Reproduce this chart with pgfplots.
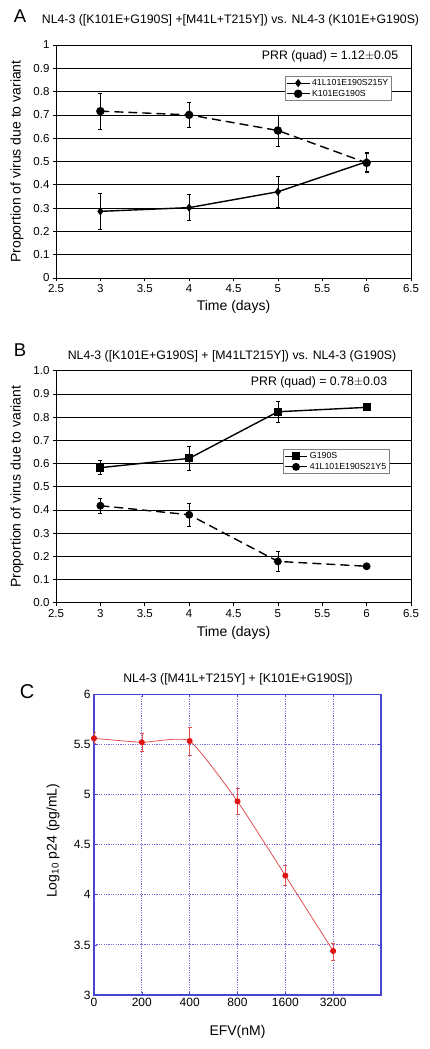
\documentclass[border=0pt]{standalone}
\usepackage{pgfplots}
\pgfplotsset{compat=1.18}
\usepackage{pgfplotstable}
\usepackage{fontspec}
\setmainfont{Liberation Sans}
\definecolor{cblue}{RGB}{70,70,210}
\definecolor{cgrid}{RGB}{110,110,225}
\definecolor{cred}{RGB}{225,20,20}
\definecolor{clred}{RGB}{225,80,80}

\pgfplotstableread{
x y e
3 0.286 0.077
4 0.302 0.056
5 0.370 0.068
6 0.499 0.040
}\Asolid
\pgfplotstableread{
x y e
3 0.716 0.076
4 0.700 0.053
5 0.633 0.067
6 0.494 0.042
}\Adash
\pgfplotstableread{
x y e
3 0.582 0.030
4 0.622 0.051
5 0.823 0.045
6 0.842 0.000
}\Bsolid
\pgfplotstableread{
x y e
3 0.418 0.031
4 0.379 0.051
5 0.178 0.043
6 0.157 0.000
}\Bdash
\pgfplotstableread{
x y ep em
0 5.561 0.057 0.050
1 5.521 0.090 0.086
2 5.534 0.137 0.146
3 4.932 0.130 0.132
4 4.191 0.100 0.100
5 3.439 0.076 0.089
}\Cdata

\pgfplotsset{
  panelAB/.style={
    scale only axis, width=355pt,
    xmin=2.5, xmax=6.5, ymin=0, ymax=1,
    xtick={2.5,3,...,6.5}, ytick={0,0.1,...,1},
    tick align=outside, major tick length=3pt,
    xtick pos=bottom, ytick pos=left,
    ymajorgrids, major grid style={black, line width=0.7pt},
    axis line style={black, line width=0.7pt},
    tick style={black, line width=0.7pt},
    /pgf/number format/assume math mode=true,
    ticklabel style={font=\fontsize{11.5}{13}\selectfont},
    label style={font=\fontsize{14}{16}\selectfont},
    xlabel={Time (days)},
    ylabel={Proportion of virus due to variant},
    ylabel style={at={(axis description cs:-0.11,0.5)}, anchor=center},
    legend cell align=left,
    legend style={draw=gray, line width=0.6pt, font=\fontsize{8.8}{10}\selectfont,
      inner sep=1pt, row sep=-1pt},
    legend image code/.code={\draw[solid,line width=1pt] (0mm,0mm) -- (8mm,0mm);
      \draw plot coordinates {(4mm,0mm)};},
    error bars/y dir=both, error bars/y explicit,
    error bars/error bar style={black, line width=0.5pt, solid},
    error bars/error mark options={black, line width=0.5pt, mark size=2pt, rotate=90, solid},
  },
}

\begin{document}
\begin{tikzpicture}
\useasboundingbox (0pt,0pt) rectangle (429pt,1049pt);

% ---------- Panel A ----------
\begin{axis}[panelAB, at={(56pt,771pt)}, anchor=south west, height=233pt,
  xlabel style={at={(axis description cs:0.5,-0.125)}, anchor=center},
  legend style={at={(axis description cs:0.645,0.867)}, anchor=north west}]
\addplot[black, line width=1.4pt, mark=diamond*, mark size=3pt, mark options={solid}]
  table[x=x,y=y,y error=e]{\Asolid};
\addlegendentry{41L101E190S215Y}
\addplot[black, line width=1.4pt, dash pattern=on 9pt off 5pt, mark=*, mark size=3.5pt, mark options={solid}]
  table[x=x,y=y,y error=e]{\Adash};
\addlegendentry{K101EG190S}
\node[font=\fontsize{12.3}{14}\selectfont] at (axis description cs:0.772,0.95) {PRR (quad) = 1.12$\pm$0.05};
\end{axis}
\node[font=\fontsize{18.5}{20}\selectfont] at (20pt,1033pt) {A};
\node[font=\fontsize{12.3}{14}\selectfont] at (230.5pt,1028.5pt) {NL4-3 ([K101E+G190S] +[M41L+T215Y]) vs. NL4-3 (K101E+G190S)};

% ---------- Panel B ----------
\begin{axis}[panelAB, at={(56pt,446.3pt)}, anchor=south west, height=232pt,
  yticklabel style={/pgf/number format/.cd, fixed, fixed zerofill, precision=1},
  xlabel style={at={(axis description cs:0.5,-0.132)}, anchor=center},
  legend style={at={(axis description cs:0.639,0.662)}, anchor=north west}]
\addplot[black, line width=1.4pt, mark=square*, mark size=3.3pt, mark options={solid}]
  table[x=x,y=y,y error=e]{\Bsolid};
\addlegendentry{G190S}
\addplot[black, line width=1.4pt, dash pattern=on 9pt off 5pt, mark=*, mark size=3.2pt, mark options={solid}]
  table[x=x,y=y,y error=e]{\Bdash};
\addlegendentry{41L101E190S21Y5}
\node[font=\fontsize{12.3}{14}\selectfont] at (axis description cs:0.741,0.948) {PRR (quad) = 0.78$\pm$0.03};
\end{axis}
\node[font=\fontsize{18.5}{20}\selectfont] at (20pt,699pt) {B};
\node[font=\fontsize{12.3}{14}\selectfont] at (232pt,693pt) {NL4-3 ([K101E+G190S] + [M41LT215Y]) vs. NL4-3 (G190S)};

% ---------- Panel C ----------
\begin{axis}[scale only axis, at={(94pt,54pt)}, anchor=south west, width=287pt, height=300.7pt,
  xmin=0, xmax=6, ymin=3, ymax=6,
  xtick={0,1,2,3,4,5}, xticklabels={0,200,400,800,1600,3200},
  ytick={3,3.5,...,6},
  tick align=inside, major tick length=3pt,
  xmajorgrids, ymajorgrids,
  x grid style={cgrid, dash pattern=on 1.2pt off 1.2pt, line width=0.8pt},
  y grid style={cgrid, dash pattern=on 1.2pt off 1.2pt, line width=0.8pt},
  axis line style={cblue, line width=1.2pt},
  tick style={cblue, line width=0.6pt},
  /pgf/number format/assume math mode=true,
  ticklabel style={font=\fontsize{12}{14}\selectfont},
  label style={font=\fontsize{14}{16}\selectfont},
  xlabel={EFV(nM)},
  xlabel style={at={(axis description cs:0.5,-0.123)}, anchor=center},
  ylabel={Log\textsubscript{10} p24 (pg/mL)},
  ylabel style={at={(axis description cs:-0.143,0.513)}, anchor=center},
]
\addplot[clred, line width=0.8pt, smooth, tension=0.3, mark=*, mark size=2.6pt,
  mark options={cred, fill=cred},
  error bars/.cd, y dir=both, y explicit,
  error bar style={clred, line width=0.6pt},
  error mark options={clred, line width=0.6pt, mark size=2pt, rotate=90}]
  table[x=x,y=y,y error plus=ep,y error minus=em]{\Cdata};
\end{axis}
\node[font=\fontsize{20}{22}\selectfont] at (27pt,357pt) {C};
\node[font=\fontsize{12.3}{14}\selectfont] at (238pt,370pt) {NL4-3 ([M41L+T215Y] + [K101E+G190S])};
\end{tikzpicture}
\end{document}
